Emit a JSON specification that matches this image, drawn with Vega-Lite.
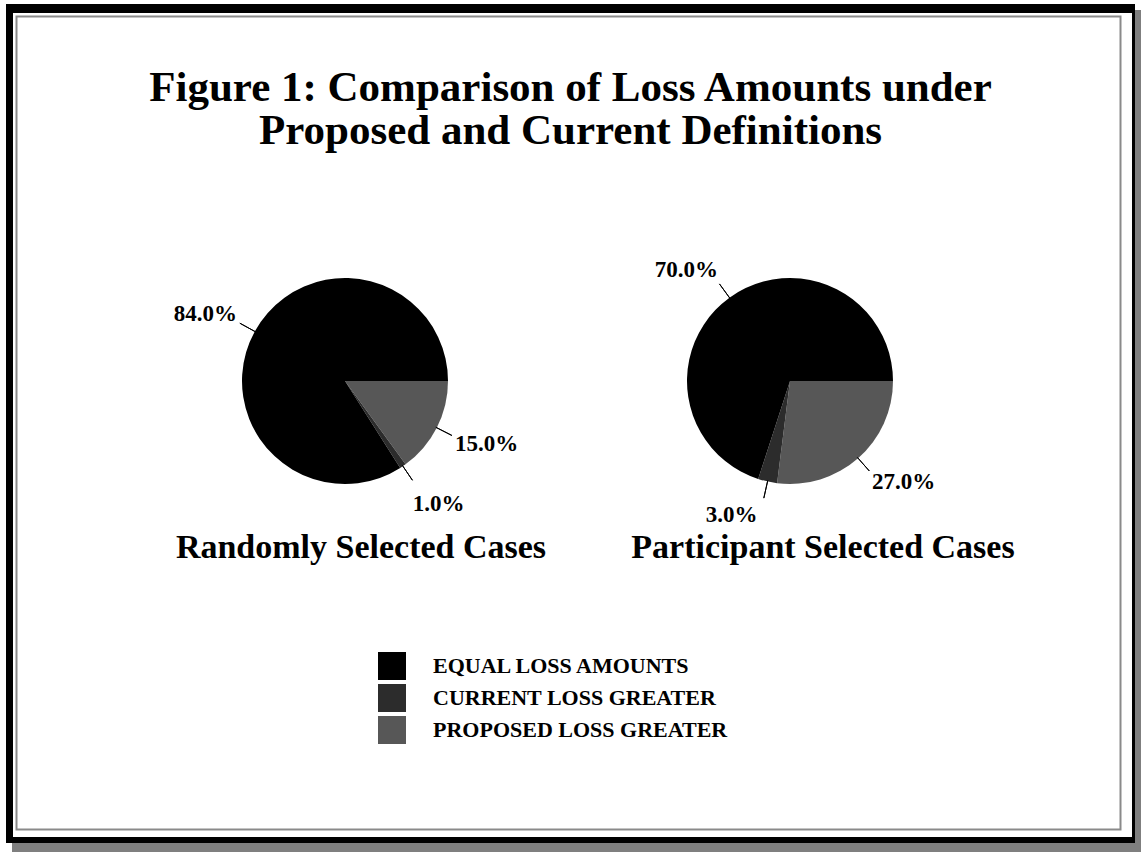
{
  "$schema": "https://vega.github.io/schema/vega-lite/v6.json",
  "width": 1141,
  "height": 852,
  "autosize": {"type": "none"},
  "padding": 0,
  "background": "white",
  "config": {"view": {"stroke": null}},
  "title": {
    "text": ["Figure 1: Comparison of Loss Amounts under", "Proposed and Current Definitions"],
    "font": "Liberation Serif",
    "fontSize": 43,
    "fontWeight": "bold",
    "color": "black",
    "lineHeight": 43,
    "anchor": "middle",
    "offset": 0,
    "dy": 153
  },
  "datasets": {
    "slices": [
      {"pie": "Randomly Selected Cases", "slice": "PROPOSED LOSS GREATER", "share": 0.15, "ord": 1},
      {"pie": "Randomly Selected Cases", "slice": "CURRENT LOSS GREATER", "share": 0.01, "ord": 2},
      {"pie": "Randomly Selected Cases", "slice": "EQUAL LOSS AMOUNTS", "share": 0.84, "ord": 3},
      {"pie": "Participant Selected Cases", "slice": "PROPOSED LOSS GREATER", "share": 0.27, "ord": 1},
      {"pie": "Participant Selected Cases", "slice": "CURRENT LOSS GREATER", "share": 0.03, "ord": 2},
      {"pie": "Participant Selected Cases", "slice": "EQUAL LOSS AMOUNTS", "share": 0.70, "ord": 3}
    ],
    "one": [{}]
  },
  "layer": [
    {
      "data": {"name": "one"},
      "mark": {"type": "rect", "color": "#7f7f7f"},
      "encoding": {
        "x": {"datum": 12, "type": "quantitative", "scale": {"domain": [0, 1141], "zero": false, "nice": false}, "axis": null},
        "x2": {"datum": 1141},
        "y": {"datum": 10, "type": "quantitative", "scale": {"domain": [0, 852], "reverse": true, "zero": false, "nice": false}, "axis": null},
        "y2": {"datum": 852}
      }
    },
    {
      "data": {"name": "one"},
      "mark": {"type": "rect", "color": "black"},
      "encoding": {
        "x": {"datum": 6, "type": "quantitative", "axis": null},
        "x2": {"datum": 1135},
        "y": {"datum": 4, "type": "quantitative", "axis": null},
        "y2": {"datum": 843}
      }
    },
    {
      "data": {"name": "one"},
      "mark": {"type": "rect", "color": "white"},
      "encoding": {
        "x": {"datum": 13, "type": "quantitative", "axis": null},
        "x2": {"datum": 1132},
        "y": {"datum": 13, "type": "quantitative", "axis": null},
        "y2": {"datum": 837}
      }
    },
    {
      "data": {"name": "one"},
      "mark": {"type": "rect", "filled": false, "stroke": "#8a8a8a", "strokeWidth": 2},
      "encoding": {
        "x": {"datum": 16.5, "type": "quantitative", "axis": null},
        "x2": {"datum": 1120.5},
        "y": {"datum": 16.5, "type": "quantitative", "axis": null},
        "y2": {"datum": 829.5}
      }
    },
    {
      "data": {"name": "slices"},
      "transform": [{"filter": {"field": "pie", "equal": "Randomly Selected Cases"}}],
      "mark": {"type": "arc", "radius": 103},
      "encoding": {
        "x": {"datum": 345, "type": "quantitative", "axis": null},
        "y": {"datum": 381, "type": "quantitative", "axis": null},
        "theta": {"field": "share", "type": "quantitative", "stack": true, "scale": {"domain": [0, 1], "range": [1.5708, 7.854]}},
        "order": {"field": "ord", "type": "quantitative"},
        "color": {
          "field": "slice", "type": "nominal",
          "scale": {"domain": ["EQUAL LOSS AMOUNTS", "CURRENT LOSS GREATER", "PROPOSED LOSS GREATER"], "range": ["#000000", "#2c2c2c", "#575757"]},
          "legend": {"orient": "none", "legendX": 378, "legendY": 652, "title": null, "symbolType": "square", "symbolSize": 784, "symbolStrokeWidth": 0, "labelFont": "Liberation Serif", "labelFontSize": 22, "labelFontWeight": "bold", "labelColor": "black", "labelLimit": 0, "rowPadding": 4, "labelOffset": 27, "padding": 0}
        }
      }
    },
    {
      "data": {"name": "slices"},
      "transform": [{"filter": {"field": "pie", "equal": "Participant Selected Cases"}}],
      "mark": {"type": "arc", "radius": 103},
      "encoding": {
        "x": {"datum": 790, "type": "quantitative", "axis": null},
        "y": {"datum": 381, "type": "quantitative", "axis": null},
        "theta": {"field": "share", "type": "quantitative", "stack": true, "scale": {"domain": [0, 1], "range": [1.5708, 7.854]}},
        "order": {"field": "ord", "type": "quantitative"},
        "color": {"field": "slice", "type": "nominal"}
      }
    },
    {
      "data": {"name": "slices"},
      "transform": [
        {"filter": {"field": "pie", "equal": "Randomly Selected Cases"}},
        {"fold": ["share", "share"], "as": ["k", "v"]},
        {"window": [{"op": "row_number", "as": "rn"}], "groupby": ["slice"]},
        {"window": [{"op": "sum", "field": "v", "as": "cum"}], "sort": [{"field": "ord"}, {"field": "rn"}], "frame": [null, 0]},
        {"filter": "datum.rn == 1"}
      ],
      "mark": {"type": "arc", "radius": 120, "radius2": 102, "filled": false, "stroke": "black", "strokeWidth": 1},
      "encoding": {
        "x": {"datum": 345, "type": "quantitative", "axis": null},
        "y": {"datum": 381, "type": "quantitative", "axis": null},
        "theta": {"field": "cum", "type": "quantitative", "stack": null, "scale": {"domain": [0, 2], "range": [1.5708, 7.854]}},
        "theta2": {"field": "cum"}
      }
    },
    {
      "data": {"name": "slices"},
      "transform": [
        {"filter": {"field": "pie", "equal": "Participant Selected Cases"}},
        {"fold": ["share", "share"], "as": ["k", "v"]},
        {"window": [{"op": "row_number", "as": "rn"}], "groupby": ["slice"]},
        {"window": [{"op": "sum", "field": "v", "as": "cum"}], "sort": [{"field": "ord"}, {"field": "rn"}], "frame": [null, 0]},
        {"filter": "datum.rn == 1"}
      ],
      "mark": {"type": "arc", "radius": 120, "radius2": 102, "filled": false, "stroke": "black", "strokeWidth": 1},
      "encoding": {
        "x": {"datum": 790, "type": "quantitative", "axis": null},
        "y": {"datum": 381, "type": "quantitative", "axis": null},
        "theta": {"field": "cum", "type": "quantitative", "stack": null, "scale": {"domain": [0, 2], "range": [1.5708, 7.854]}},
        "theta2": {"field": "cum"}
      }
    },
    {
      "data": {"name": "slices"},
      "transform": [
        {"filter": {"field": "pie", "equal": "Randomly Selected Cases"}},
        {"fold": ["share", "share"], "as": ["k", "v"]},
        {"window": [{"op": "row_number", "as": "rn"}], "groupby": ["slice"]},
        {"window": [{"op": "sum", "field": "v", "as": "cum"}], "sort": [{"field": "ord"}, {"field": "rn"}], "frame": [null, 0]},
        {"filter": "datum.rn == 1"}
      ],
      "mark": {"type": "text", "radius": 155, "font": "Liberation Serif", "fontSize": 23, "fontWeight": "bold", "color": "black", "align": "center", "baseline": "middle"},
      "encoding": {
        "x": {"datum": 345, "type": "quantitative", "axis": null},
        "y": {"datum": 381, "type": "quantitative", "axis": null},
        "theta": {"field": "cum", "type": "quantitative", "stack": null, "scale": {"domain": [0, 2], "range": [1.5184, 7.8016]}},
        "text": {"field": "share", "type": "quantitative", "format": ".1%"}
      }
    },
    {
      "data": {"name": "slices"},
      "transform": [
        {"filter": {"field": "pie", "equal": "Participant Selected Cases"}},
        {"fold": ["share", "share"], "as": ["k", "v"]},
        {"window": [{"op": "row_number", "as": "rn"}], "groupby": ["slice"]},
        {"window": [{"op": "sum", "field": "v", "as": "cum"}], "sort": [{"field": "ord"}, {"field": "rn"}], "frame": [null, 0]},
        {"filter": "datum.rn == 1 && datum.ord != 2"}
      ],
      "mark": {"type": "text", "radius": 152, "font": "Liberation Serif", "fontSize": 23, "fontWeight": "bold", "color": "black", "align": "center", "baseline": "middle"},
      "encoding": {
        "x": {"datum": 790, "type": "quantitative", "axis": null},
        "y": {"datum": 381, "type": "quantitative", "axis": null},
        "theta": {"field": "cum", "type": "quantitative", "stack": null, "scale": {"domain": [0, 2], "range": [1.4486, 7.7318]}},
        "text": {"field": "share", "type": "quantitative", "format": ".1%"}
      }
    },
    {
      "data": {"name": "slices"},
      "transform": [
        {"filter": {"field": "pie", "equal": "Participant Selected Cases"}},
        {"fold": ["share", "share"], "as": ["k", "v"]},
        {"window": [{"op": "row_number", "as": "rn"}], "groupby": ["slice"]},
        {"window": [{"op": "sum", "field": "v", "as": "cum"}], "sort": [{"field": "ord"}, {"field": "rn"}], "frame": [null, 0]},
        {"filter": "datum.rn == 1 && datum.ord == 2"}
      ],
      "mark": {"type": "text", "radius": 146, "font": "Liberation Serif", "fontSize": 23, "fontWeight": "bold", "color": "black", "align": "center", "baseline": "middle"},
      "encoding": {
        "x": {"datum": 790, "type": "quantitative", "axis": null},
        "y": {"datum": 381, "type": "quantitative", "axis": null},
        "theta": {"field": "cum", "type": "quantitative", "stack": null, "scale": {"domain": [0, 2], "range": [1.7628, 8.0460]}},
        "text": {"field": "share", "type": "quantitative", "format": ".1%"}
      }
    },
    {
      "data": {"name": "one"},
      "mark": {"type": "text", "font": "Liberation Serif", "fontSize": 34, "fontWeight": "bold", "color": "black", "align": "center", "baseline": "alphabetic"},
      "encoding": {
        "x": {"datum": 361, "type": "quantitative", "axis": null},
        "y": {"datum": 558, "type": "quantitative", "axis": null},
        "text": {"value": "Randomly Selected Cases"}
      }
    },
    {
      "data": {"name": "one"},
      "mark": {"type": "text", "font": "Liberation Serif", "fontSize": 34, "fontWeight": "bold", "color": "black", "align": "center", "baseline": "alphabetic"},
      "encoding": {
        "x": {"datum": 823, "type": "quantitative", "axis": null},
        "y": {"datum": 558, "type": "quantitative", "axis": null},
        "text": {"value": "Participant Selected Cases"}
      }
    }
  ],
  "resolve": {"scale": {"theta": "independent"}}
}
